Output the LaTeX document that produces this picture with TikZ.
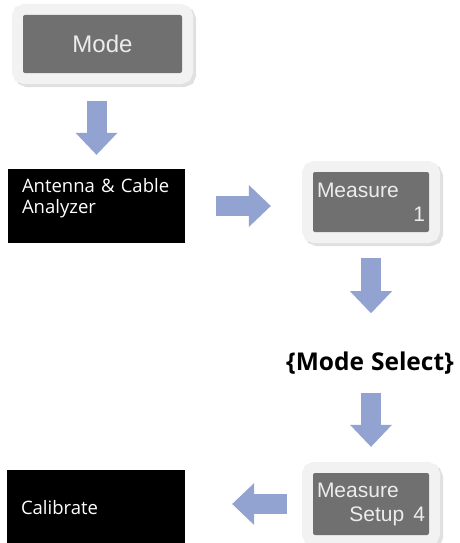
\documentclass[tikz,border=0pt]{standalone}
\usepackage{fontspec}
\setmainfont{Open Sans}
\newfontfamily\keyfont{Liberation Sans}
\usepackage{xcolor}
\usepackage{tikz}
\usetikzlibrary{arrows.meta, positioning, calc}

\definecolor{keygray}{RGB}{112,112,112}
\definecolor{keytext}{RGB}{236,236,236}
\definecolor{keyframe}{RGB}{242,242,242}
\definecolor{keyshadow}{RGB}{224,224,224}
\definecolor{arrowblue}{RGB}{146,163,209}

\tikzset{
  key/.style={fill=keygray, text=keytext, rounded corners=2pt, inner xsep=4pt,
    font=\keyfont\fontsize{21}{24}\selectfont,
    preaction={draw=keyshadow, line width=22pt, rounded corners=9pt,
      transform canvas={shift={(3pt,-3pt)}}},
    preaction={draw=keyframe, line width=22pt, rounded corners=9pt}},
  blackbox/.style={fill=black, text=white, align=left, inner xsep=14pt,
    font=\fontsize{18.5}{21}\selectfont},
  flow/.style={draw=arrowblue, line width=20pt,
    -{Triangle[length=22pt, width=42pt, line width=0pt]}}
}

\begin{document}
\begin{tikzpicture}[x=1pt, y=-1pt]
\useasboundingbox (0,0) rectangle (460,543);

\node[key, minimum width=159pt, minimum height=58pt, font=\keyfont\fontsize{24}{28}\selectfont] (mode) at (102.5,44) {Mode};

\node[blackbox, minimum width=177pt, minimum height=74pt, text width=149pt] (aca) at (96.5,206)
   {Antenna \& Cable\\Analyzer\\~};

\node[key, minimum width=116pt, minimum height=60pt, text width=108pt, align=left] (meas1) at (371,202)
   {Measure\\\hfill 1};

\node[font=\bfseries\fontsize{24.5}{28}\selectfont] (modesel) at (370,363) {\{Mode\hspace{7pt}Select\}};

\node[key, minimum width=116pt, minimum height=62pt, text width=108pt, align=left] (setup) at (371,504)
   {Measure\\\hfill Setup\hspace{9pt}4};

\node[blackbox, minimum width=178pt, minimum height=76pt, text width=150pt] (calib) at (96,508) {Calibrate};

% menu path
\draw[flow, shorten <=28pt, shorten >=14pt] (aca.north |- mode.south) -- (aca.north);
\draw[flow, shorten <=31pt, shorten >=42pt] (aca.east) -- (aca.east -| meas1.west);
\draw[flow, shorten <=26pt, shorten >=35pt] (meas1.south) -- (modesel.north -| meas1.south);
\draw[flow, shorten <=15pt, shorten >=26pt] (modesel.south -| setup.north) -- (setup.north);
\draw[flow, shorten <=26pt, shorten >=47pt] (setup.west) -- (setup.west -| calib.east);
\end{tikzpicture}
\end{document}
